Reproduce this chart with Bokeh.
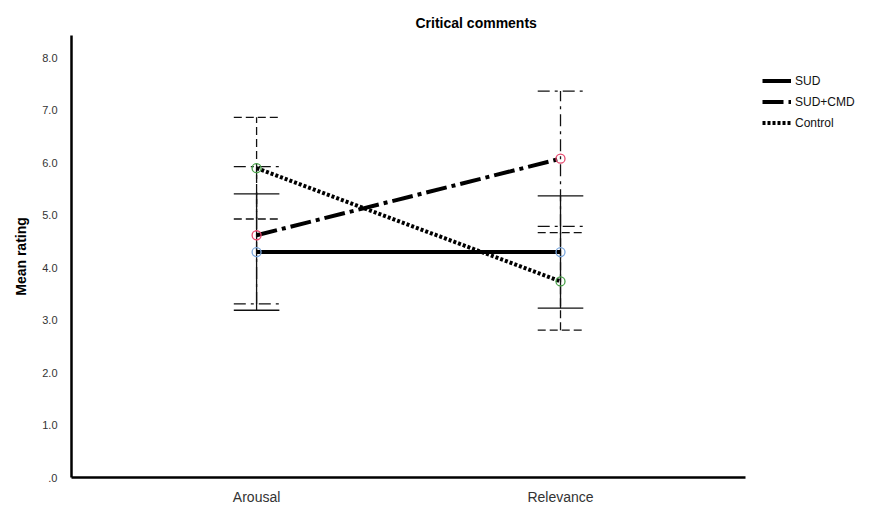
from bokeh.plotting import figure
from bokeh.models import (FixedTicker, Legend, LegendItem, Range1d, Title)
from bokeh.embed import file_html
from bokeh.resources import INLINE

# Mean ratings with error-bar half widths, per condition
categories = ["Arousal", "Relevance"]
sud_mean = [4.30, 4.30]
sud_err = [1.11, 1.07]
cmd_mean = [4.62, 6.08]
cmd_err = [1.31, 1.29]
ctl_mean = [5.90, 3.74]
ctl_err = [0.97, 0.93]
y_ticks = [0, 1, 2, 3, 4, 5, 6, 7, 8]
y_tick_labels = [".0", "1.0", "2.0", "3.0", "4.0", "5.0", "6.0", "7.0", "8.0"]

xs = [1, 2]
FONT = "Liberation Sans"

# the frame runs to the right edge so the legend can sit beside the axes;
# the x axis line itself is bounded to the data area
p = figure(frame_width=806, frame_height=442, output_backend="svg",
           toolbar_location=None,
           x_range=Range1d(0.391, 3.043), y_range=Range1d(0, 8.43),
           min_border_left=71, min_border_right=0, min_border_top=35,
           min_border_bottom=33)
p.background_fill_color = "white"
p.border_fill_color = "white"
p.outline_line_color = None
p.grid.visible = False

title = Title(text="Critical comments", align="left", offset=344,
              text_font=FONT, text_font_size="14px", text_font_style="bold",
              text_color="#000000")
p.add_layout(title, "above")

# axes
p.xaxis.bounds = (0.391, 2.609)
p.xaxis.ticker = FixedTicker(ticks=xs)
p.xaxis.major_label_overrides = {x: c for x, c in zip(xs, categories)}
p.yaxis.ticker = FixedTicker(ticks=y_ticks)
p.yaxis.major_label_overrides = {t: l for t, l in zip(y_ticks, y_tick_labels)}
for ax in (p.xaxis, p.yaxis):
    ax.axis_line_width = 2.5
    ax.axis_line_color = "black"
    ax.major_tick_line_color = None
    ax.minor_tick_line_color = None
    ax.major_label_text_font = FONT
p.xaxis.major_label_text_font_size = "14px"
p.xaxis.major_label_text_color = "#333333"
p.xaxis.major_label_standoff = 5
p.yaxis.major_label_text_font_size = "11px"
p.yaxis.major_label_text_color = "#333333"
p.yaxis.major_label_standoff = 8
p.yaxis.axis_label = "Mean rating"
p.yaxis.axis_label_text_font = FONT
p.yaxis.axis_label_text_font_size = "14px"
p.yaxis.axis_label_text_font_style = "bold"
p.yaxis.axis_label_text_color = "black"
p.yaxis.axis_label_standoff = 10

CAP = 0.075
series = [
    (sud_mean, sud_err, "solid", "solid", "#7ba7dd", "SUD"),
    (cmd_mean, cmd_err, "21 5 4 5", "12 5 3 5", "#e5486d", "SUD+CMD"),
    (ctl_mean, ctl_err, "3 2", "8 4", "#48a048", "Control"),
]

# error bars
for mean, err, _, bar_dash, _, _ in series:
    lo = [m - e for m, e in zip(mean, err)]
    hi = [m + e for m, e in zip(mean, err)]
    p.segment(x0=xs, y0=lo, x1=xs, y1=hi, line_color="#111111",
              line_width=1.3, line_dash=bar_dash)
    p.segment(x0=[x - CAP for x in xs], y0=lo, x1=[x + CAP for x in xs], y1=lo,
              line_color="#111111", line_width=1.3, line_dash=bar_dash)
    p.segment(x0=[x - CAP for x in xs], y0=hi, x1=[x + CAP for x in xs], y1=hi,
              line_color="#111111", line_width=1.3, line_dash=bar_dash)

# mean lines
items = []
for mean, _, line_dash, _, _, name in series:
    r = p.line(xs, mean, line_color="black", line_width=4, line_dash=line_dash)
    items.append(LegendItem(label=name, renderers=[r]))

# markers
for mean, _, _, _, color, _ in series:
    p.scatter(xs, mean, marker="circle", size=9, fill_color="white",
              fill_alpha=0.0, line_color=color, line_width=1.3)

legend = Legend(items=items, location=(691, 346), glyph_width=29,
                glyph_height=17, label_text_font=FONT,
                label_text_font_size="12px", label_text_color="#111111",
                spacing=4, padding=0, margin=0, border_line_color=None,
                background_fill_alpha=0.0, label_standoff=4)
p.add_layout(legend, "center")

open("out.html", "w").write(file_html(p, INLINE))
